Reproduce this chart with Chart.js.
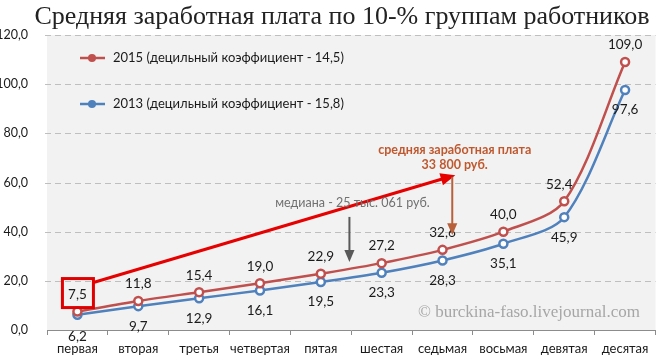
<!DOCTYPE html>
<html>
<head>
<meta charset="utf-8">
<script src="https://cdn.jsdelivr.net/npm/chart.js@4/dist/chart.umd.min.js"></script>
<style>
  html, body { margin: 0; padding: 0; background: #fff; }
  #wrap { width: 662px; height: 360px; }
</style>
</head>
<body>
<div id="wrap"><canvas id="salaryChart"></canvas></div>
<script>
const categories = ['первая', 'вторая', 'третья', 'четвертая', 'пятая', 'шестая', 'седьмая', 'восьмая', 'девятая', 'десятая'];
const values2015 = [7.5, 11.8, 15.4, 19.0, 22.9, 27.2, 32.6, 40.0, 52.4, 109.0];
const values2013 = [6.2, 9.7, 12.9, 16.1, 19.5, 23.3, 28.3, 35.1, 45.9, 97.6];
const seriesNames = ['2015 (децильный коэффициент - 14,5)', '2013 (децильный коэффициент - 15,8)'];
const yMin = 0, yMax = 120, yStep = 20;

const RED = '#c0504d';
const BLUE = '#4f81bd';
const fmt = v => v.toFixed(1).replace('.', ',');

// background, title, dashed grid, watermark
const backdrop = {
    id: 'backdrop',
    beforeDraw(chart) {
        const { ctx, chartArea: a } = chart;
        ctx.save();
        ctx.fillStyle = '#f2f2f2';
        ctx.fillRect(a.left, a.top, a.right - a.left, a.bottom - a.top);
        ctx.fillStyle = '#222';
        ctx.font = '26px "Liberation Serif"';
        ctx.textAlign = 'center';
        ctx.textBaseline = 'middle';
        ctx.fillText('Средняя заработная плата по 10-% группам работников', 342, 17);
        ctx.restore();
    },
    beforeDatasetsDraw(chart) {
        const { ctx, chartArea: a, scales: { x, y } } = chart;
        ctx.save();
        ctx.strokeStyle = '#bfbfbf';
        ctx.lineWidth = 1;
        ctx.setLineDash([6, 4]);
        y.ticks.forEach(t => {
            if (t.value === yMin) return;
            const py = Math.round(y.getPixelForValue(t.value)) + 0.5;
            ctx.beginPath();
            ctx.moveTo(a.left - 2, py);
            ctx.lineTo(a.right, py);
            ctx.stroke();
        });
        ctx.setLineDash([]);
        ctx.fillStyle = '#a6a6a6';
        ctx.font = '17px "Liberation Serif"';
        ctx.textAlign = 'right';
        ctx.textBaseline = 'middle';
        ctx.fillText('© burckina-faso.livejournal.com', 640, y.getPixelForValue(7.3));
        ctx.restore();
    }
};

function arrow(ctx, x1, y1, x2, y2, color, width, head) {
    const ang = Math.atan2(y2 - y1, x2 - x1);
    ctx.strokeStyle = color;
    ctx.fillStyle = color;
    ctx.lineWidth = width;
    ctx.beginPath();
    ctx.moveTo(x1, y1);
    ctx.lineTo(x2 - Math.cos(ang) * head * 0.8, y2 - Math.sin(ang) * head * 0.8);
    ctx.stroke();
    ctx.beginPath();
    ctx.moveTo(x2, y2);
    ctx.lineTo(x2 - head * Math.cos(ang - 0.4), y2 - head * Math.sin(ang - 0.4));
    ctx.lineTo(x2 - head * Math.cos(ang + 0.4), y2 - head * Math.sin(ang + 0.4));
    ctx.closePath();
    ctx.fill();
}

// value labels, legend, notes
const overlay = {
    id: 'overlay',
    afterDatasetsDraw(chart) {
        const { ctx } = chart;
        ctx.save();
        ctx.font = '13.5px Lato';
        ctx.fillStyle = '#1a1a1a';
        ctx.textAlign = 'center';
        ctx.textBaseline = 'middle';
        chart.getDatasetMeta(0).data.forEach((p, i) => {
            const dx = i === 8 ? -5 : 0;
            ctx.fillText(fmt(values2015[i]), p.x + dx, p.y - 17);
        });
        chart.getDatasetMeta(1).data.forEach((p, i) => {
            const dy = i === 0 ? 22 : 20;
            ctx.fillText(fmt(values2013[i]), p.x, p.y + dy);
        });
        ctx.restore();
    },
    afterDraw(chart) {
        const { ctx, scales: { x, y } } = chart;
        ctx.save();

        // legend
        [[RED, 58], [BLUE, 104]].forEach(([c, ly], k) => {
            ctx.strokeStyle = c;
            ctx.lineWidth = 2.5;
            ctx.beginPath();
            ctx.moveTo(80, ly);
            ctx.lineTo(105, ly);
            ctx.stroke();
            ctx.fillStyle = c;
            ctx.beginPath();
            ctx.arc(92, ly, 4, 0, Math.PI * 2);
            ctx.fill();
            ctx.fillStyle = '#1a1a1a';
            ctx.font = '13px Lato';
            ctx.textAlign = 'left';
            ctx.textBaseline = 'middle';
            ctx.fillText(seriesNames[k], 113, ly);
        });

        // red box around the first label and long arrow
        const p0 = chart.getDatasetMeta(0).data[0];
        ctx.strokeStyle = '#e00000';
        ctx.lineWidth = 3;
        ctx.strokeRect(p0.x - 15, p0.y - 33, 31, 29);
        arrow(ctx, p0.x + 16, p0.y - 29, x.getPixelForValue(6.21), y.getPixelForValue(63), '#e60000', 3, 16);

        // average salary note
        const ax = x.getPixelForValue(6.2);
        ctx.fillStyle = '#c0582e';
        ctx.font = 'bold 12.5px Lato';
        ctx.textAlign = 'center';
        ctx.textBaseline = 'middle';
        ctx.fillText('средняя заработная плата', ax, y.getPixelForValue(73.2));
        ctx.fillText('33 800 руб.', ax, y.getPixelForValue(67.1));
        arrow(ctx, x.getPixelForValue(6.16), y.getPixelForValue(62.3), x.getPixelForValue(6.16), y.getPixelForValue(38.6), '#b8603a', 2, 13);

        // median note
        ctx.fillStyle = '#707070';
        ctx.font = '12.5px Lato';
        ctx.fillText('медиана - 25 тыс. 061 руб.', x.getPixelForValue(4.52), y.getPixelForValue(51.7));
        arrow(ctx, x.getPixelForValue(4.47), y.getPixelForValue(46), x.getPixelForValue(4.47), y.getPixelForValue(27.7), '#595959', 2, 13);

        ctx.restore();
    }
};

new Chart(document.getElementById('salaryChart'), {
    type: 'line',
    data: {
        labels: categories,
        datasets: [
            {
                label: seriesNames[0],
                data: values2015,
                borderColor: RED,
                backgroundColor: '#fff',
                pointBorderColor: RED,
                pointBackgroundColor: '#fff',
                borderWidth: 2.5,
                pointRadius: 4,
                pointBorderWidth: 2.5,
                tension: 0.3
            },
            {
                label: seriesNames[1],
                data: values2013,
                borderColor: BLUE,
                backgroundColor: '#fff',
                pointBorderColor: BLUE,
                pointBackgroundColor: '#fff',
                borderWidth: 2.5,
                pointRadius: 4,
                pointBorderWidth: 2.5,
                tension: 0.3
            }
        ]
    },
    options: {
        responsive: true,
        maintainAspectRatio: false,
        animation: false,
        layout: { padding: { top: 35, right: 4, left: 0, bottom: 0 } },
        plugins: {
            legend: { display: false },
            tooltip: { enabled: false }
        },
        scales: {
            x: {
                offset: true,
                afterFit(scale) { scale.height = 30; },
                grid: { offset: true, drawOnChartArea: false, tickLength: 5, color: '#8c8c8c' },
                border: { color: '#8c8c8c' },
                ticks: { color: '#1a1a1a', font: { family: 'Lato', size: 13 }, padding: 6, maxRotation: 0, autoSkip: false }
            },
            y: {
                min: yMin,
                max: yMax,
                afterFit(scale) { scale.width = 47; },
                border: { display: false },
                grid: { display: false },
                ticks: {
                    stepSize: yStep,
                    padding: 11,
                    color: '#1a1a1a',
                    font: { family: 'Lato', size: 12.5 },
                    callback: v => fmt(v)
                }
            }
        }
    },
    plugins: [backdrop, overlay]
});
</script>
</body>
</html>
